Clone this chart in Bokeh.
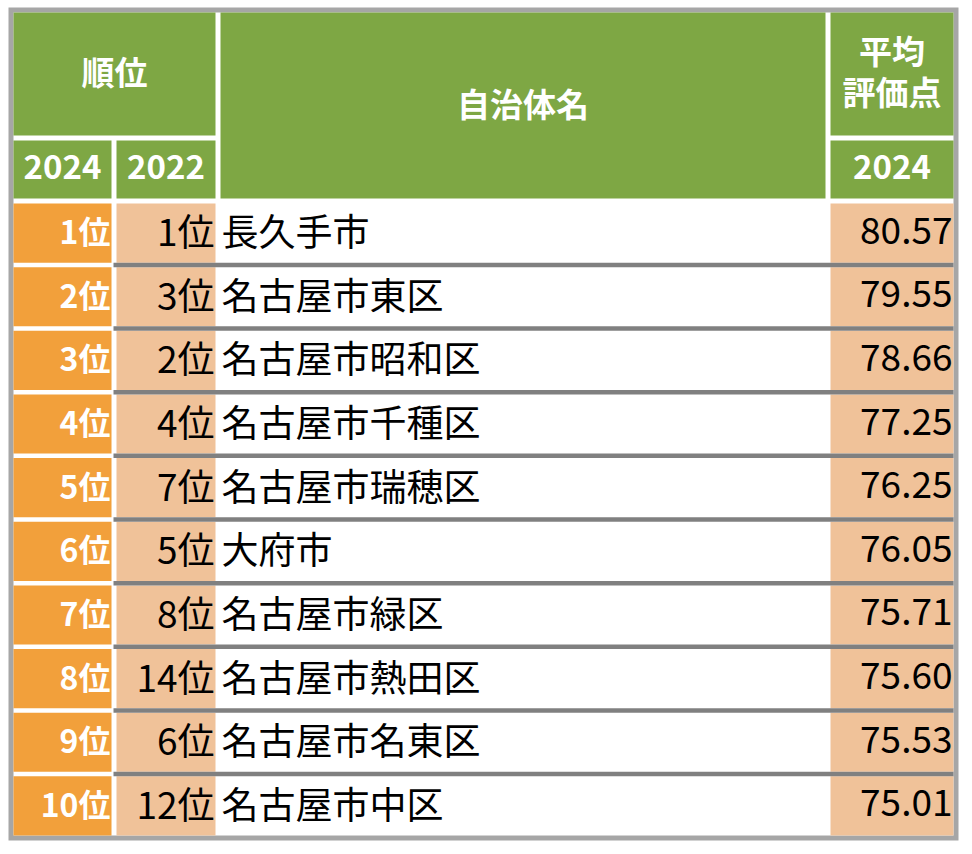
from bokeh.plotting import figure
from bokeh.models import Range1d, ColumnDataSource
from bokeh.core.properties import value
from bokeh.embed import file_html
from bokeh.resources import INLINE

# ---- data ----
rank_2024 = [1, 2, 3, 4, 5, 6, 7, 8, 9, 10]
rank_2022 = [1, 3, 2, 4, 7, 5, 8, 14, 6, 12]
names = ["長久手市", "名古屋市東区", "名古屋市昭和区", "名古屋市千種区", "名古屋市瑞穂区",
         "大府市", "名古屋市緑区", "名古屋市熱田区", "名古屋市名東区", "名古屋市中区"]
scores = [80.57, 79.55, 78.66, 77.25, 76.25, 76.05, 75.71, 75.60, 75.53, 75.01]
header_rank = "順位"
header_name = "自治体名"
header_score = ["平均", "評価点"]
header_years = ["2024", "2022", "2024"]

# ---- layout (pixel units) ----
W, H = 964, 846
FONT = "Noto Sans CJK JP"
GREEN = "#7EA744"
ORANGE = "#F2A03B"
LIGHT = "#F0C299"
BORDER = "#A6A6A6"
SEP = "#808080"

c1 = (13, 111)
c2 = (116, 215)
c3 = (220, 825)
c4 = (830, 953)
h1 = (12, 135)
h2 = (140, 198)
data_top, data_bot = 203, 835
sep_w = 4.5
n = len(names)
pitch = (data_bot - data_top + sep_w) / n
dy = -3  # text baseline correction

p = figure(width=W, height=H, x_range=Range1d(0, W), y_range=Range1d(H, 0),
           output_backend="svg", toolbar_location=None, min_border=0,
           background_fill_color="white", border_fill_color="white")
p.axis.visible = False
p.grid.visible = False
p.outline_line_color = None

def quads(lefts, rights, tops, bottoms, color):
    p.quad(left=lefts, right=rights, top=tops, bottom=bottoms,
           fill_color=color, line_color=None)

# frame
quads([8], [958], [7], [840], BORDER)
quads([13], [953], [12], [835], "white")

# header cells
quads([c1[0], c1[0], c2[0], c3[0], c4[0], c4[0]],
      [c2[1], c1[1], c2[1], c3[1], c4[1], c4[1]],
      [h1[0], h2[0], h2[0], h1[0], h1[0], h2[0]],
      [h1[1], h2[1], h2[1], h2[1], h1[1], h2[1]], GREEN)

row_top = [data_top + i * pitch for i in range(n)]
row_bot = [t + pitch - sep_w for t in row_top]
row_mid = [(t + b) / 2 + dy for t, b in zip(row_top, row_bot)]

quads([c1[0]] * n, [c1[1]] * n, row_top, row_bot, ORANGE)
quads([c2[0]] * n, [c2[1]] * n, row_top, row_bot, LIGHT)
quads([c4[0]] * n, [c4[1]] * n, row_top, row_bot, LIGHT)

# separators
quads([113] * (n - 1), [953] * (n - 1), [t - sep_w for t in row_top[1:]], row_top[1:], SEP)

# header texts
hmid1 = (h1[0] + h1[1]) / 2 + dy
hmid2 = (h2[0] + h2[1]) / 2 + dy
hdr = ColumnDataSource(dict(
    x=[(c1[0] + c2[1]) / 2, (c1[0] + c1[1]) / 2, (c2[0] + c2[1]) / 2,
       (c3[0] + c3[1]) / 2, (c4[0] + c4[1]) / 2, (c4[0] + c4[1]) / 2, (c4[0] + c4[1]) / 2],
    y=[hmid1, hmid2, hmid2, (h1[0] + h2[1]) / 2 + dy, hmid1 - 21, hmid1 + 20, hmid2],
    t=[header_rank, header_years[0], header_years[1], header_name,
       header_score[0], header_score[1], header_years[2]],
))
p.text(x="x", y="y", text="t", source=hdr, text_align="center", text_baseline="middle",
       text_color="white", text_font=value(FONT), text_font_style="bold",
       text_font_size="33px")

# data texts
src = ColumnDataSource(dict(
    y=row_mid,
    r24=[f"{r}位" for r in rank_2024],
    r22=[f"{r}位" for r in rank_2022],
    name=names,
    score=[f"{s:.2f}" for s in scores],
    x1=[c1[1] - 1] * n, x2=[c2[1] - 1] * n, x3=[c3[0] + 1] * n, x4=[c4[1] - 1] * n,
))
p.text(x="x1", y="y", text="r24", source=src, text_align="right", text_baseline="middle",
       text_color="white", text_font=value(FONT), text_font_style="bold",
       text_font_size="32px")
p.text(x="x2", y="y", text="r22", source=src, text_align="right", text_baseline="middle",
       text_color="black", text_font=value(FONT), text_font_size="37px")
p.text(x="x3", y="y", text="name", source=src, text_align="left", text_baseline="middle",
       text_color="black", text_font=value(FONT), text_font_size="37px")
p.text(x="x4", y="y", text="score", source=src, text_align="right", text_baseline="middle",
       text_color="black", text_font=value(FONT), text_font_size="37px")

open("out.html", "w").write(file_html(p, INLINE))
